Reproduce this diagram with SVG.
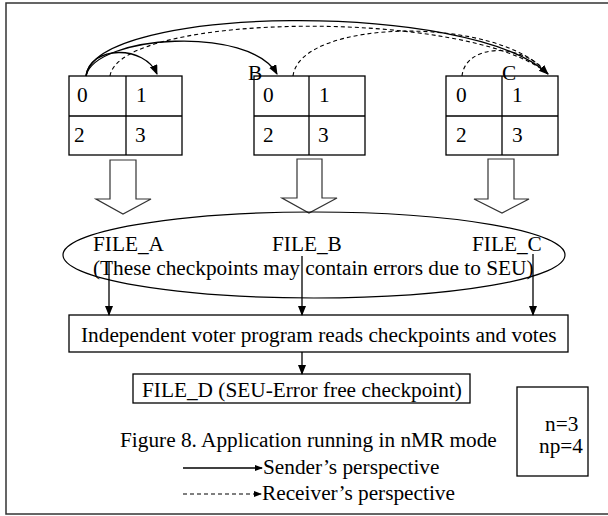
<svg xmlns="http://www.w3.org/2000/svg" width="608" height="516" viewBox="0 0 608 516">
<style>
  text { font-family: "Liberation Serif", "Times New Roman", serif; font-size: 21.3px; fill: #000; }
  .box { fill: #fff; stroke: #000; stroke-width: 1.3; }
  .ln { fill: none; stroke: #000; stroke-width: 1.3; }
  .dash { fill: none; stroke: #000; stroke-width: 1.1; stroke-dasharray: 4 3; }
  .hollow { fill: #fff; stroke: #333; stroke-width: 1.2; }
</style>
<defs>
  <marker id="ah" markerWidth="10" markerHeight="10" refX="9" refY="4" orient="auto" markerUnits="userSpaceOnUse">
    <path d="M0,0 L10,4 L0,8 Z" fill="#000"/>
  </marker>
  <marker id="ahs" markerWidth="8" markerHeight="8" refX="7" refY="3" orient="auto" markerUnits="userSpaceOnUse">
    <path d="M0,0 L8,3 L0,6 Z" fill="#000"/>
  </marker>
</defs>
<rect x="6" y="3" width="610" height="511" fill="#fff" stroke="#333" stroke-width="1.5"/>

<g id="procA">
  <rect class="box" x="69" y="76" width="113" height="79"/>
  <line class="ln" x1="126" y1="76" x2="126" y2="155"/>
  <line class="ln" x1="69" y1="116" x2="182" y2="116"/>
  <text x="77" y="102">0</text><text x="136" y="102">1</text>
  <text x="74" y="142">2</text><text x="135" y="142">3</text>
</g>
<g id="procB">
  <rect class="box" x="254" y="76" width="111" height="79"/>
  <line class="ln" x1="309" y1="76" x2="309" y2="155"/>
  <line class="ln" x1="254" y1="116" x2="365" y2="116"/>
  <text x="263" y="102">0</text><text x="319" y="102">1</text>
  <text x="263" y="142">2</text><text x="318" y="142">3</text>
  <text x="248" y="80">B</text>
</g>
<g id="procC">
  <rect class="box" x="446" y="76" width="112" height="79"/>
  <line class="ln" x1="502" y1="76" x2="502" y2="155"/>
  <line class="ln" x1="446" y1="116" x2="558" y2="116"/>
  <text x="456" y="102">0</text><text x="512" y="102">1</text>
  <text x="456" y="142">2</text><text x="512" y="142">3</text>
  <text x="502" y="80">C</text>
</g>

<g id="hollowArrows">
  <path class="hollow" d="M110,160 L136,160 L136,199 L151,199 L123,214 L96,199 L110,199 Z"/>
  <path class="hollow" d="M297,159 L322,159 L322,198 L337,198 L309,213 L282,198 L297,198 Z"/>
  <path class="hollow" d="M488,159 L514,159 L514,199 L529,199 L502,213 L474,199 L488,199 Z"/>
</g>

<g id="files">
  <ellipse cx="314" cy="255" rx="251" ry="43" fill="none" stroke="#000" stroke-width="1.2"/>
  <text x="93" y="251">FILE_A</text>
  <text x="272" y="251">FILE_B</text>
  <text x="472" y="251">FILE_C</text>
  <text x="93" y="275">(These checkpoints may contain errors due to SEU)</text>
</g>

<g id="voter">
  <rect class="box" x="69" y="315" width="499" height="37"/>
  <text x="81" y="342">Independent voter program reads checkpoints and votes</text>
</g>

<g id="fileD">
  <rect class="box" x="133" y="374" width="337" height="29"/>
  <text x="142" y="397">FILE_D (SEU-Error free checkpoint)</text>
</g>

<g id="params">
  <rect class="box" x="517" y="387" width="71" height="89"/>
  <text x="545" y="431" font-size="20">n=3</text>
  <text x="539" y="453" font-size="20">np=4</text>
</g>

<g id="caption">
  <text x="120" y="447" font-size="20.8">Figure 8. Application running in nMR mode</text>
  <text x="263" y="474">Sender’s perspective</text>
  <text x="262" y="500">Receiver’s perspective</text>
</g>

<g id="connectors">
  <path class="ln" d="M86,76 C90,45 145,45 157,74" marker-end="url(#ah)"/>
  <path class="ln" d="M86,76 C95,35 250,25 277,74" marker-end="url(#ah)"/>
  <path class="ln" d="M86,76 C95,5 470,0 548,74" marker-end="url(#ah)"/>
  <path class="dash" d="M110,76 C120,12 470,8 548,74"/>
  <path class="dash" d="M293,76 C300,18 500,15 548,74"/>
  <path class="dash" d="M462,76 C465,45 520,40 548,74"/>
  <line class="ln" x1="109" y1="262" x2="109" y2="315" marker-end="url(#ah)"/>
  <line class="ln" x1="302" y1="256" x2="302" y2="315" marker-end="url(#ah)"/>
  <line class="ln" x1="533" y1="254" x2="533" y2="315" marker-end="url(#ah)"/>
  <line class="ln" x1="302" y1="352" x2="302" y2="374" marker-end="url(#ah)"/>
  <line class="ln" x1="183" y1="468" x2="262" y2="468" marker-end="url(#ahs)"/>
  <line class="dash" x1="183" y1="494" x2="261" y2="494" stroke-dasharray="3 2" marker-end="url(#ahs)"/>
</g>
</svg>
